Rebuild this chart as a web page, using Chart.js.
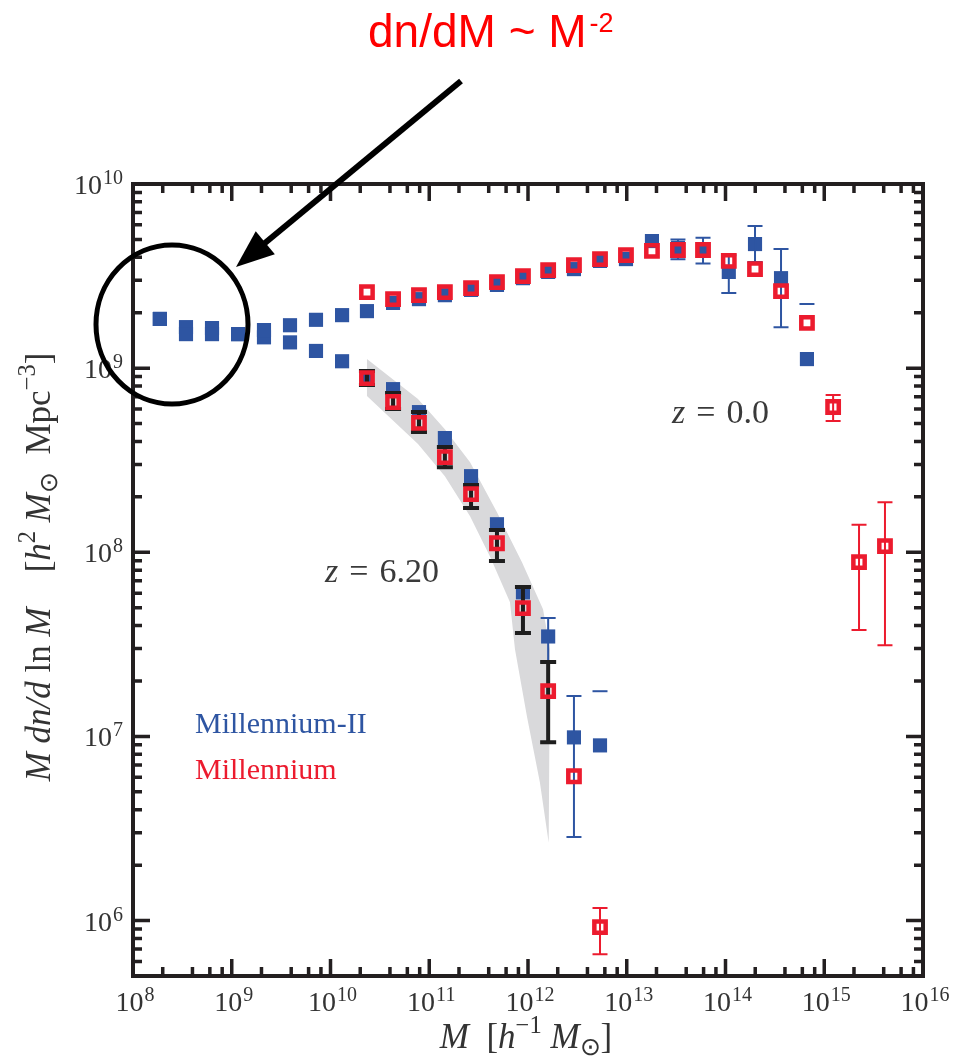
<!DOCTYPE html>
<html><head><meta charset="utf-8">
<script src="https://cdn.jsdelivr.net/npm/chart.js@4.4.1/dist/chart.umd.min.js"></script>
<style>html,body{margin:0;padding:0;background:#fff;}#wrap{position:relative;width:954px;height:1059px;}</style>
</head><body><div id="wrap"><canvas id="c" width="954" height="1059"></canvas></div>
<script>
// ---------------- data ----------------
const massBins = [1.87e8,3.44e8,6.31e8,1.16e9,2.12e9,3.89e9,7.13e9,1.31e10,2.34e10,4.30e10,7.87e10,1.44e11,2.65e11,4.85e11,8.89e11,1.60e12,2.92e12,5.36e12,9.82e12,1.80e13,3.30e13,5.92e13,1.08e14,1.99e14,3.65e14,6.68e14,1.23e15,2.25e15,4.12e15];

// Millennium-II, z = 0.0
const miiZ0Mass = massBins.slice(0, 26);
const miiZ0Val  = [1.85e9,1.53e9,1.53e9,1.53e9,1.61e9,1.71e9,1.83e9,1.94e9,2.04e9,2.26e9,2.37e9,2.49e9,2.66e9,2.83e9,3.08e9,3.33e9,3.45e9,3.82e9,3.91e9,4.90e9,4.50e9,4.40e9,3.33e9,4.72e9,3.08e9,1.12e9];
const miiZ0ErrHi = [null,null,null,null,null,null,null,null,null,null,null,null,null,null,null,null,null,null,null,null,5.0e9,5.1e9,4.1e9,5.92e9,4.44e9,2.23e9];
const miiZ0ErrLo = [null,null,null,null,null,null,null,null,null,null,null,null,null,null,null,null,null,null,null,null,3.9e9,3.7e9,2.56e9,3.77e9,1.67e9,0];

// Millennium-II, z = 6.20
const miiZ6Mass = massBins.slice(0, 18);
const miiZ6Val  = [1.85e9,1.67e9,1.65e9,1.53e9,1.47e9,1.38e9,1.24e9,1.09e9,8.93e8,7.69e8,5.77e8,4.17e8,2.59e8,1.42e8,6.06e7,3.49e7,9.88e6,8.94e6];
const miiZ6ErrHi = [null,null,null,null,null,null,null,null,null,null,null,null,null,null,null,4.40e7,1.66e7,1.76e7];
const miiZ6ErrLo = [null,null,null,null,null,null,null,null,null,null,null,null,null,null,null,2.54e7,2.84e6,0];

// Millennium, z = 0.0
const msZ0Mass = massBins.slice(8, 29);
const msZ0Val  = [2.59e9,2.37e9,2.49e9,2.59e9,2.72e9,2.93e9,3.16e9,3.41e9,3.63e9,3.91e9,4.11e9,4.33e9,4.38e9,4.38e9,3.82e9,3.45e9,2.62e9,1.76e9,6.15e8,8.85e7,1.08e8];
const msZ0ErrHi = [null,null,null,null,null,null,null,null,null,null,null,null,null,null,null,null,null,null,7.14e8,1.41e8,1.87e8];
const msZ0ErrLo = [null,null,null,null,null,null,null,null,null,null,null,null,null,null,null,null,null,null,5.16e8,3.78e7,3.13e7];

// Millennium, z = 6.20
const msZ6Mass = massBins.slice(8, 18);
const msZ6Val  = [8.83e8,6.55e8,5.04e8,3.29e8,2.07e8,1.12e8,4.98e7,1.76e7,6.08e6,9.21e5];
const msZ6BoxHi = [9.64e8,7.33e8,5.78e8,3.73e8,2.32e8,1.32e8,6.47e7,2.54e7,null,null];
const msZ6BoxLo = [8.09e8,6.00e8,4.50e8,2.90e8,1.74e8,8.96e7,3.64e7,9.31e6,null,null];
const msZ6ErrHi = [null,null,null,null,null,null,null,null,null,1.17e6];
const msZ6ErrLo = [null,null,null,null,null,null,null,null,null,6.56e5];

// grey band (z = 6.20 expectation), polygon outline
const bandMass = [2.34e10,7.69e10,1.44e11,2.59e11,4.85e11,8.69e11,1.42e12,1.67e12,1.62e12,1.32e12,9.77e11,7.38e11,6.57e11,4.12e11,2.59e11,1.44e11,7.69e10,2.34e10];
const bandVal  = [1.12e9,6.79e8,4.66e8,3.08e8,1.65e8,8.83e7,4.9e7,2.97e7,2.65e6,5.62e6,1.28e7,2.97e7,5.35e7,9.5e7,1.57e8,2.59e8,3.87e8,7.05e8];

// ticks
const xTickValues = [1e8,1e9,1e10,1e11,1e12,1e13,1e14,1e15,1e16];
const yTickValues = [1e6,1e7,1e8,1e9,1e10];
const xTickExps = ['8','9','10','11','12','13','14','15','16'];
const yTickExps = ['6','7','8','9','10'];
const xMinorFactors = [2,4,6,8];
const yMinorFactors = [2,3,4,5,6,7,8,9];

// ---------------- styling ----------------
const BLUE = '#2e55a2';
const RED = '#ec1b2e';
const INK = '#231f20';
const TXT = '#333333';
const SERIF = '"Liberation Serif", "Times New Roman", serif';

const pts = (m, v) => m.map((x, i) => ({x, y: v[i]}));

const errDefs = {
  1: [{hi: miiZ6ErrHi, lo: miiZ6ErrLo, mass: miiZ6Mass, color: BLUE, lw: 2, cap: 7.5}],
  2: [{hi: miiZ0ErrHi, lo: miiZ0ErrLo, mass: miiZ0Mass, color: BLUE, lw: 2, cap: 7.5}],
  3: [{hi: msZ6ErrHi, lo: msZ6ErrLo, mass: msZ6Mass, color: RED, lw: 2, cap: 7.5}],
  4: [{hi: msZ0ErrHi, lo: msZ0ErrLo, mass: msZ0Mass, color: RED, lw: 2, cap: 7.5}]
};
const blackDef = {hi: msZ6BoxHi, lo: msZ6BoxLo, mass: msZ6Mass, color: '#1e1e1e', lw: 4, cap: 8};

function drawErr(chart, d) {
  const {ctx, scales: {x, y}} = chart;
  ctx.save();
  ctx.strokeStyle = d.color; ctx.lineWidth = d.lw; ctx.lineCap = 'butt';
  d.mass.forEach((m, i) => {
    const hi = d.hi[i], lo = d.lo[i];
    if (hi == null) return;
    const px = x.getPixelForValue(m);
    const yh = y.getPixelForValue(hi);
    ctx.beginPath();
    ctx.moveTo(px - d.cap, yh); ctx.lineTo(px + d.cap, yh);
    if (lo > 0) {
      const yl = y.getPixelForValue(lo);
      ctx.moveTo(px, yh); ctx.lineTo(px, yl);
      ctx.moveTo(px - d.cap, yl); ctx.lineTo(px + d.cap, yl);
    }
    ctx.stroke();
  });
  ctx.restore();
}

function measureRich(ctx, parts, S) {
  let w = 0;
  parts.forEach(p => {
    const sz = (p.sup || p.sub) ? S * 0.7 : S;
    ctx.font = (p.it ? 'italic ' : '') + sz + 'px ' + SERIF;
    p._w = ctx.measureText(p.t).width; p._f = ctx.font;
    p._dy = p.sup ? -S * 0.42 : (p.sub ? S * 0.2 : 0);
    w += p._w;
  });
  return w;
}
function drawRich(ctx, parts, S, cx, cy) {
  const w = measureRich(ctx, parts, S);
  let xx = cx - w / 2;
  parts.forEach(p => { ctx.font = p._f; ctx.fillText(p.t, xx, cy + p._dy); xx += p._w; });
}
// power-of-ten label: "10" with raised exponent; anchor: 'center' or 'right'
function powLabel(ctx, exp, x0, baseline, anchor) {
  ctx.font = '28px ' + SERIF;
  const wb = ctx.measureText('10').width;
  ctx.font = '20px ' + SERIF;
  const we = ctx.measureText(exp).width;
  const total = wb + 1 + we;
  const left = anchor === 'right' ? x0 - total : x0 - total / 2;
  ctx.font = '28px ' + SERIF; ctx.fillText('10', left, baseline);
  ctx.font = '20px ' + SERIF; ctx.fillText(exp, left + wb + 1, baseline - 10);
}

const decor = {
  id: 'decor',
  beforeDatasetDraw(chart, args) {
    if (args.index === 3) drawErr(chart, blackDef);
  },
  afterDatasetDraw(chart, args) {
    (errDefs[args.index] || []).forEach(d => drawErr(chart, d));
  },
  afterDraw(chart) {
    const {ctx, chartArea: a, scales: {x, y}} = chart;
    ctx.save();
    // frame
    ctx.strokeStyle = INK; ctx.lineWidth = 4;
    ctx.strokeRect(a.left, a.top, a.right - a.left, a.bottom - a.top);
    ctx.lineWidth = 3.5;
    const MAJ = 17, MIN = 9;
    ctx.beginPath();
    xTickValues.forEach((v, k) => {
      const p = x.getPixelForValue(v);
      ctx.moveTo(p, a.bottom); ctx.lineTo(p, a.bottom - MAJ);
      ctx.moveTo(p, a.top); ctx.lineTo(p, a.top + MAJ);
      if (k < xTickValues.length - 1) xMinorFactors.forEach(f => {
        const q = x.getPixelForValue(v * f);
        ctx.moveTo(q, a.bottom); ctx.lineTo(q, a.bottom - MIN);
        ctx.moveTo(q, a.top); ctx.lineTo(q, a.top + MIN);
      });
    });
    [1e5].concat(yTickValues).forEach(v => {
      if (v >= y.min) {
        const p = y.getPixelForValue(v);
        ctx.moveTo(a.left, p); ctx.lineTo(a.left + MAJ, p);
        ctx.moveTo(a.right, p); ctx.lineTo(a.right - MAJ, p);
      }
      if (v < y.max) yMinorFactors.forEach(f => {
        const val = v * f;
        if (val < y.min || val > y.max) return;
        const q = y.getPixelForValue(val);
        ctx.moveTo(a.left, q); ctx.lineTo(a.left + MIN, q);
        ctx.moveTo(a.right, q); ctx.lineTo(a.right - MIN, q);
      });
    });
    ctx.stroke();

    // tick labels
    ctx.fillStyle = TXT; ctx.textBaseline = 'alphabetic'; ctx.textAlign = 'left';
    xTickValues.forEach((v, i) => powLabel(ctx, xTickExps[i], x.getPixelForValue(v) + 2, a.bottom + 35, 'center'));
    yTickValues.forEach((v, i) => powLabel(ctx, yTickExps[i], a.left - 10, y.getPixelForValue(v) + 10, 'right'));

    // axis titles
    drawRich(ctx, [{t:'M',it:1},{t:'  '},{t:'['},{t:'h',it:1},{t:'−1',sup:1},{t:' '},{t:'M',it:1},{t:'⊙',sub:1},{t:']'}], 35, (a.left + a.right) / 2 - 2, 1048);
    ctx.save();
    ctx.translate(50, (a.top + a.bottom) / 2 - 13);
    ctx.rotate(-Math.PI / 2);
    drawRich(ctx, [{t:'M',it:1},{t:' '},{t:'dn',it:1},{t:'/',it:1},{t:'d',it:1},{t:' '},{t:'ln'},{t:' '},{t:'M',it:1},{t:'    '},{t:'['},{t:'h',it:1},{t:'2',sup:1},{t:' '},{t:'M',it:1},{t:'⊙',sub:1},{t:'  '},{t:'Mpc'},{t:'−3',sup:1},{t:']'}], 35, 0, 0);
    ctx.restore();

    // redshift labels
    const zlab = (xx, yy, num) => {
      ctx.font = 'italic 34px ' + SERIF; ctx.fillText('z', xx, yy);
      let w = ctx.measureText('z').width + 11;
      ctx.font = '34px ' + SERIF; ctx.fillText('=', xx + w, yy);
      w += ctx.measureText('=').width + 11;
      ctx.fillText(num, xx + w, yy);
    };
    ctx.fillStyle = '#3a3a3a';
    zlab(672, 423, '0.0');
    zlab(325, 582, '6.20');

    // legend text
    ctx.font = '30px ' + SERIF;
    ctx.fillStyle = BLUE; ctx.fillText('Millennium-II', 195, 733);
    ctx.fillStyle = RED; ctx.fillText('Millennium', 195, 779);

    // annotation: red power-law text
    ctx.fillStyle = '#ff0000';
    ctx.font = '46px "Liberation Sans", Arial, sans-serif';
    ctx.fillText('dn/dM ~ M', 368, 47);
    const tw = ctx.measureText('dn/dM ~ M').width;
    ctx.font = '27px "Liberation Sans", Arial, sans-serif';
    ctx.fillText('-2', 368 + tw + 3, 32);

    // arrow
    ctx.strokeStyle = '#000'; ctx.fillStyle = '#000'; ctx.lineWidth = 6; ctx.lineCap = 'butt';
    const sx = 461, sy = 81, tx = 236, ty = 267;
    const L = Math.hypot(tx - sx, ty - sy), ux = (tx - sx) / L, uy = (ty - sy) / L;
    const HL = 38, HW = 15;
    const bx = tx - ux * HL, by = ty - uy * HL;
    ctx.beginPath(); ctx.moveTo(sx, sy); ctx.lineTo(bx + ux * 2, by + uy * 2); ctx.stroke();
    ctx.beginPath(); ctx.moveTo(tx, ty); ctx.lineTo(bx - uy * HW, by + ux * HW); ctx.lineTo(bx + uy * HW, by - ux * HW); ctx.closePath(); ctx.fill();

    // circle
    ctx.lineWidth = 5;
    ctx.beginPath(); ctx.ellipse(172, 324.5, 76, 79.5, 0, 0, Math.PI * 2); ctx.stroke();
    ctx.restore();
  }
};

const chart = new Chart(document.getElementById('c'), {
  type: 'scatter',
  data: {
    datasets: [
      { type: 'line', label: 'band', data: pts(bandMass, bandVal), fill: 'shape', backgroundColor: '#d9d9db',
        borderColor: 'rgba(0,0,0,0)', borderWidth: 0, pointRadius: 0, tension: 0, order: 10 },
      { label: 'Millennium-II z=6.20', data: pts(miiZ6Mass, miiZ6Val), pointStyle: 'rect', pointRadius: 10,
        pointBorderWidth: 0, backgroundColor: BLUE, borderColor: BLUE, order: 8 },
      { label: 'Millennium-II z=0.0', data: pts(miiZ0Mass, miiZ0Val), pointStyle: 'rect', pointRadius: 10,
        pointBorderWidth: 0, backgroundColor: BLUE, borderColor: BLUE, order: 7 },
      { label: 'Millennium z=6.20', data: pts(msZ6Mass, msZ6Val), pointStyle: 'rect', pointRadius: 8,
        pointBorderWidth: 4.5, backgroundColor: 'rgba(0,0,0,0)', borderColor: RED, order: 4 },
      { label: 'Millennium z=0.0', data: pts(msZ0Mass, msZ0Val), pointStyle: 'rect', pointRadius: 8,
        pointBorderWidth: 4.5, backgroundColor: 'rgba(0,0,0,0)', borderColor: RED, order: 3 }
    ]
  },
  options: {
    responsive: false, animation: false, devicePixelRatio: 1, events: [],
    layout: { padding: { top: 184, right: 31, left: 0, bottom: 0 } },
    plugins: { legend: { display: false }, tooltip: { enabled: false } },
    scales: {
      x: {
        type: 'logarithmic', min: 1e8, max: 1e16,
        grid: { display: false, drawTicks: false }, border: { display: false },
        afterBuildTicks: s => { s.ticks = xTickValues.map(v => ({ value: v })); },
        afterFit: s => { s.height = 83; },
        ticks: { display: false }
      },
      y: {
        type: 'logarithmic', min: 5e5, max: 1e10,
        grid: { display: false, drawTicks: false }, border: { display: false },
        afterBuildTicks: s => { s.ticks = yTickValues.map(v => ({ value: v })); },
        afterFit: s => { s.width = 133; },
        ticks: { display: false }
      }
    }
  },
  plugins: [decor]
});
</script></body></html>
